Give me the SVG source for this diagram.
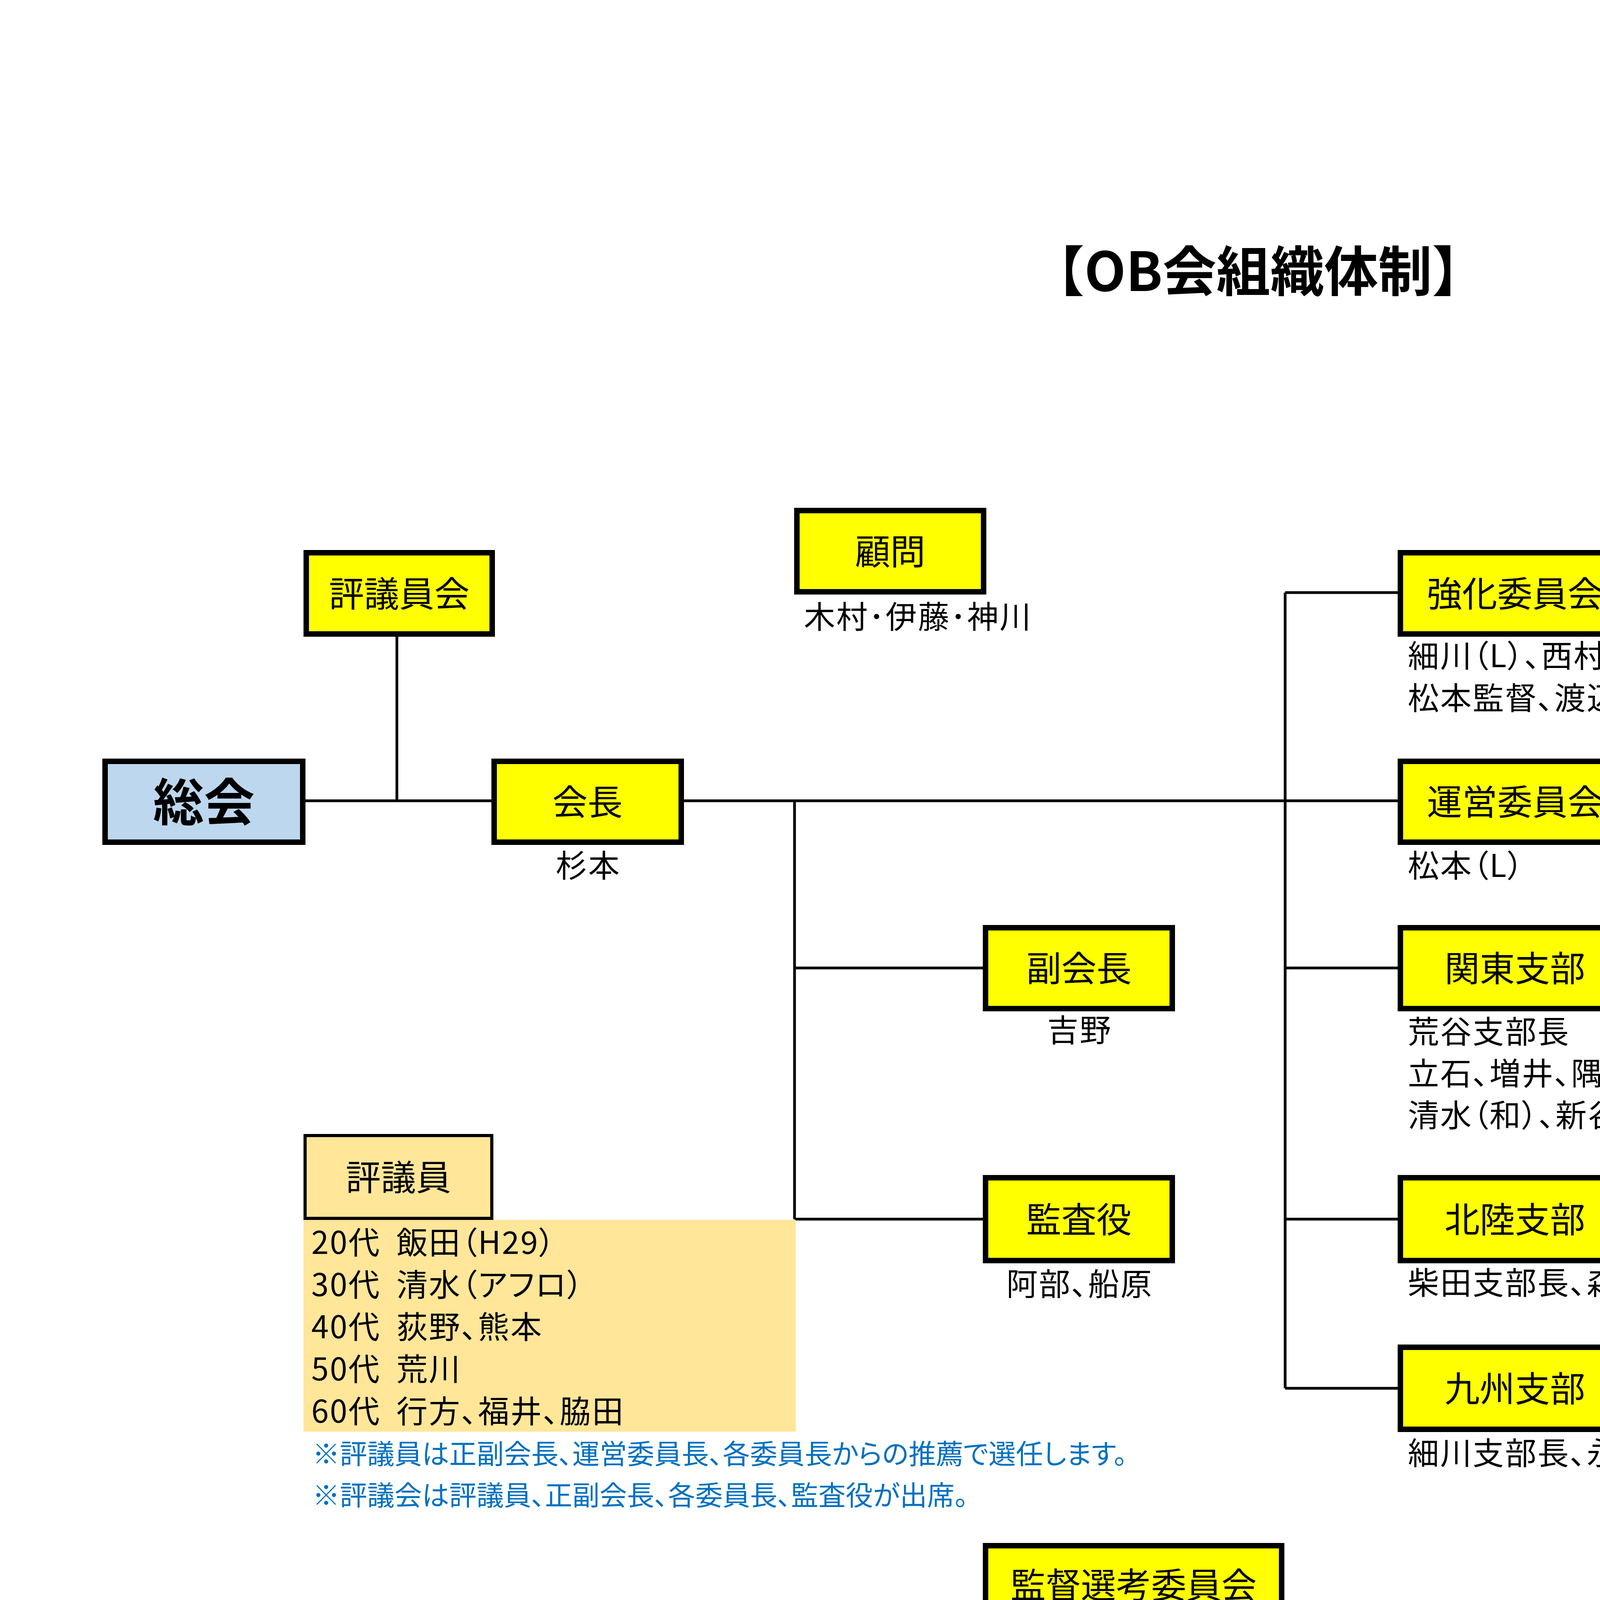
<svg xmlns="http://www.w3.org/2000/svg" width="7015" height="4960" viewBox="0 0 7015 4960">
<style>
text{font-family:"Noto Sans CJK JP","Noto Sans CJK SC",sans-serif;fill:#000}
.box{stroke:#000;stroke-width:14}
.thin{stroke-width:8}
.y{fill:#FFFF00}
.b{fill:#BDD7EE}
.g{fill:#F2F2F2}
.o{fill:#FFE699}
.bt{font-size:90px;text-anchor:middle}
.lb{font-size:80px;letter-spacing:3px;font-feature-settings:"palt"}
.sp{letter-spacing:-40px}
.mid{text-anchor:middle}
.note{font-size:70px;fill:#0070C0;font-feature-settings:"palt"}
.ln{stroke:#000;stroke-width:7;fill:none}
</style>
<rect width="7015" height="4960" fill="#fff"/>
<text x="6657" y="563" font-size="72" font-weight="bold" text-anchor="end" style="font-family:'Liberation Sans',sans-serif">2023/2/19</text>
<text x="3221" y="745" font-size="138" font-weight="bold" text-anchor="middle">【OB会組織体制】</text>

<g id="connectors" class="ln">
<path d="M782 2050H1258"/>
<path d="M1016 1630V2050"/>
<path d="M1751 2050H3578"/>
<path d="M2034 2050V3121M2034 2478H2516M2034 3121H2516"/>
<path d="M3290 1517V3554M3290 1517H3578M3290 2478H3578M3290 3121H3578M3290 3554H3578"/>
<path d="M4179 2050H5152"/>
<path d="M4860 1517V3446M4860 1517H5152M4860 2478H5152M4860 3013H5152M4860 3446H5152"/>
<path d="M5791 1517H6256"/>
<path d="M5791 3013H6256"/>
</g>

<g id="soukai"><rect class="box b" x="269" y="1949" width="506" height="207"/><text x="522" y="2101" font-size="130" font-weight="bold" text-anchor="middle">総会</text></g>
<g id="hyogiinkai"><rect class="box y" x="784" y="1415" width="476" height="208"/><text class="bt" x="1022" y="1553">評議員会</text></g>
<g id="kaicho"><rect class="box y" x="1265" y="1949" width="479" height="207"/><text class="bt" x="1504" y="2086">会長</text><text class="lb mid" x="1506" y="2245">杉本</text></g>
<g id="komon"><rect class="box y" x="2040" y="1307" width="478" height="208"/><text class="bt" x="2279" y="1445">顧問</text><text class="lb" x="2058" y="1608">木村･伊藤･神川</text></g>
<g id="fukukaicho"><rect class="box y" x="2523" y="2375" width="478" height="207"/><text class="bt" x="2762" y="2512">副会長</text><text class="lb mid" x="2764" y="2666">吉野</text></g>
<g id="kansayaku"><rect class="box y" x="2523" y="3015" width="478" height="212"/><text class="bt" x="2762" y="3155">監査役</text><text class="lb mid" x="2764" y="3316">阿部、船原</text></g>
<g id="kantoku"><rect class="box y" x="2523" y="3957" width="758" height="200"/><text class="bt" x="2902" y="4091">監督選考委員会</text><text class="lb" x="2538" y="4253">監督経験者</text></g>

<g id="hyogiin">
<rect x="777" y="3123" width="1260" height="542" class="o"/>
<rect class="box o thin" x="781" y="2907" width="478" height="212"/>
<text class="bt" x="1020" y="3047">評議員</text>
<text class="lb" x="797" y="3210">20代<tspan class="sp">　</tspan>飯田（H29）</text>
<text class="lb" x="797" y="3318">30代<tspan class="sp">　</tspan>清水（アフロ）</text>
<text class="lb" x="797" y="3426">40代<tspan class="sp">　</tspan>荻野、熊本</text>
<text class="lb" x="797" y="3534">50代<tspan class="sp">　</tspan>荒川</text>
<text class="lb" x="797" y="3642">60代<tspan class="sp">　</tspan>行方、福井、脇田</text>
</g>
<g id="notes">
<text class="note" x="800" y="3748">※評議員は正副会長、運営委員長、各委員長からの推薦で選任します。</text>
<text class="note" x="800" y="3854">※評議会は評議員、正副会長、各委員長、監査役が出席。</text>
</g>

<g id="kyoka"><rect class="box y" x="3585" y="1415" width="587" height="208"/><text class="bt" x="3878" y="1553">強化委員会</text><text class="lb" x="3604" y="1708">細川（L）、西村（真）</text><text class="lb" x="3604" y="1816">松本監督、渡辺（信）、前田</text></g>
<g id="unei"><rect class="box y" x="3585" y="1949" width="587" height="207"/><text class="bt" x="3878" y="2086">運営委員会</text><text class="lb" x="3604" y="2245">松本（L）</text></g>
<g id="kanto"><rect class="box y" x="3585" y="2375" width="587" height="207"/><text class="bt" x="3878" y="2512">関東支部</text><text class="lb" x="3604" y="2670">荒谷支部長</text><text class="lb" x="3604" y="2777">立石、増井、隅田、小見、津田</text><text class="lb" x="3604" y="2884">清水（和）、新谷</text></g>
<g id="hokuriku"><rect class="box y" x="3585" y="3015" width="587" height="212"/><text class="bt" x="3878" y="3155">北陸支部</text><text class="lb" x="3604" y="3313">柴田支部長、森本、山田、田中</text></g>
<g id="kyushu"><rect class="box y" x="3585" y="3449" width="587" height="210"/><text class="bt" x="3878" y="3588">九州支部</text><text class="lb" x="3604" y="3749">細川支部長、永見、宮口</text></g>

<g id="gakuren"><rect class="box g" style="stroke-width:12" x="5156" y="1089" width="1101" height="213"/><text x="5177" y="1179" font-size="92">学連代表理事/田中直樹</text><text x="5177" y="1286" font-size="92">常任理事/西村(真)</text></g>
<g id="zaisei"><rect class="box y" x="5159" y="1415" width="625" height="208"/><text class="bt" x="5471" y="1553">財政委員会</text><text class="lb" x="5176" y="1710">飯田（L）、五荘</text></g>
<g id="soshiki"><rect class="box y" x="5159" y="1949" width="625" height="207"/><text class="bt" x="5471" y="2086">組織委員会</text><text class="lb" x="5176" y="2245">井上（L）、松原</text></g>
<g id="koryu"><rect class="box y" x="5159" y="2375" width="625" height="207"/><text class="bt" x="5471" y="2512">交流委員会</text><text class="lb" x="5176" y="2668">十川（L）、山本、小池</text></g>
<g id="koho"><rect class="box y" x="5159" y="2910" width="625" height="206"/><text class="bt" x="5471" y="3047">広報委員会</text><text class="lb" x="5176" y="3208">田中（L）、</text></g>
<g id="race"><rect class="box y" x="5159" y="3341" width="625" height="210"/><text class="bt" x="5471" y="3480" font-weight="bold">レース委員会</text><text class="lb" x="5176" y="3640">野田（L）、朝倉、寺倉、小野、三宅、水島</text><text class="lb" x="5176" y="3747">※ARO有資格者 朝倉、野田、小野、三宅</text></g>
<g id="genekikaikei"><rect class="box b thin" x="6260" y="1415" width="478" height="209"/><text class="bt" x="6499" y="1553">現役会計</text></g>
<g id="genekishogai"><rect class="box b thin" x="6260" y="2907" width="478" height="212"/><text class="bt" x="6499" y="3047">現役渉外</text></g>
</svg>
